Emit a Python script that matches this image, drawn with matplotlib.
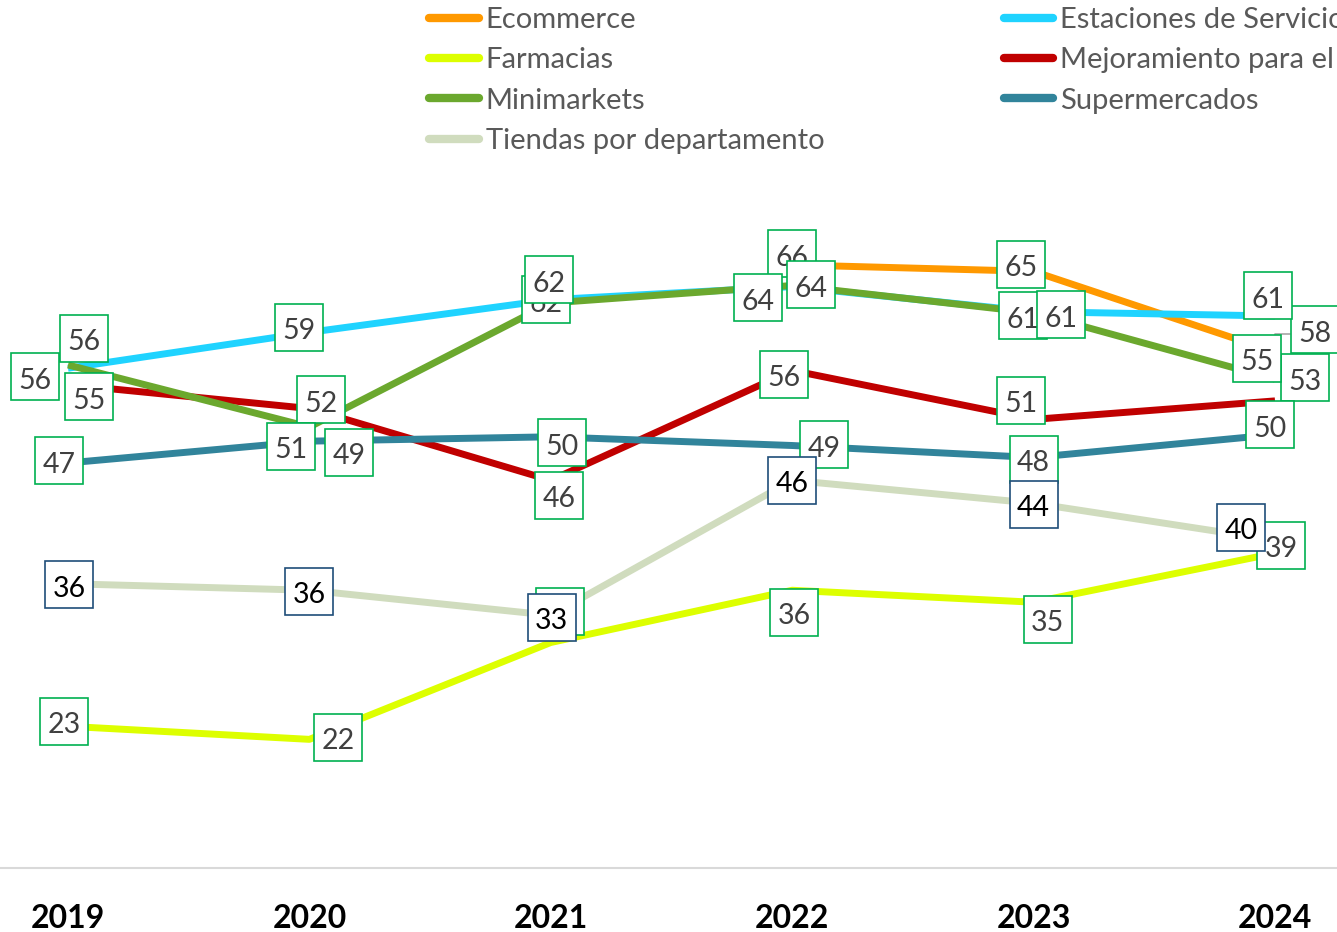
import matplotlib
matplotlib.use("Agg")
import matplotlib.pyplot as plt
from matplotlib.lines import Line2D
from matplotlib.path import Path
import numpy as np

years = ["2019", "2020", "2021", "2022", "2023", "2024"]
ecommerce = [np.nan, np.nan, np.nan, 65.6, 65.0, 57.6]
estaciones = [56.1, 59.4, 62.4, 63.6, 61.3, 60.9]
farmacias = [23.2, 22.0, 30.9, 35.7, 34.6, 39.1]
mejoramiento = [54.6, 52.4, 45.8, 55.9, 51.4, 53.1]
minimarkets = [56.4, 50.7, 62.1, 63.7, 61.2, 55.1]
supermercados = [47.4, 49.4, 49.8, 49.0, 47.9, 50.0]
tiendas = [36.3, 35.7, 33.4, 45.8, 43.7, 40.3]

series_names = ["Ecommerce", "Estaciones de Servicio", "Farmacias",
                "Mejoramiento para el hogar", "Minimarkets", "Supermercados",
                "Tiendas por departamento"]
series_values = [ecommerce, estaciones, farmacias, mejoramiento,
                 minimarkets, supermercados, tiendas]
colors = ["#FF9900", "#1FD3FF", "#DDFF00", "#C00000", "#6BA82E", "#31849B", "#D0DCBE"]

# label box-centre offsets in image pixels (dx right, dy down)
label_offsets = [
    [None, None, None, (0, -11), (-13, -7), (40, -22)],
    [(16, -30), (-10, -5), (-5, 0), (-34, 11), (-11, 4), (-7, -20)],
    [(-4, -5), (29, -2), (9, -31), (2, 22), (14, 17), (6, -8)],
    [(21, 12), (12, -9), (8, 15), (-8, 4), (-13, -19), (30, -23)],
    [(-33, 12), (-18, 19), (-2, -23), (19, -1), (27, 2), (-18, -21)],
    [(-9, -2), (40, 11), (11, 6), (32, -1), (0, 2), (-5, -10)],
    [(1, 1), (0, 1), (1, 2), (0, 0), (0, 1), (-34, -13)],
]

FONT = "Lato"
W, H = 1337, 932
BOX_W, BOX_H = 48.0, 47.0
SHIFT = 4.0  # box centre sits this many px above the text-bbox centre


def label_box(x0, y0, width, height, mutation_size):
    cx = x0 + width / 2.0
    cy = y0 + height / 2.0 + SHIFT
    hw, hh = BOX_W / 2.0, BOX_H / 2.0
    verts = [(cx - hw, cy - hh), (cx + hw, cy - hh), (cx + hw, cy + hh),
             (cx - hw, cy + hh), (cx - hw, cy - hh)]
    codes = [Path.MOVETO, Path.LINETO, Path.LINETO, Path.LINETO, Path.CLOSEPOLY]
    return Path(verts, codes)


fig = plt.figure(figsize=(W / 100, H / 100), dpi=100)
ax = fig.add_axes([0, (H - 868) / H, 1, (868 - 215) / H])

x = np.arange(len(years))
for name, vals, col in zip(series_names, series_values, colors):
    ax.plot(x, vals, color=col, lw=5, solid_capstyle="butt", solid_joinstyle="round", zorder=2)

for si, (vals, offs) in enumerate(zip(series_values, label_offsets)):
    is_t = si == 6
    for i, v in enumerate(vals):
        if np.isnan(v):
            continue
        dx, dy = offs[i]
        kw = {}
        if si == 0 and i == 5:
            kw["arrowprops"] = dict(arrowstyle="-", color="#A6A6A6", lw=1.2,
                                    shrinkA=0, shrinkB=0,
                                    connectionstyle="angle,angleA=0,angleB=90,rad=0")
        ax.annotate(f"{v:.0f}", xy=(i, v), xytext=(dx, -(dy + SHIFT)), textcoords="offset pixels",
                    ha="center", va="center", fontsize=20.5, family=FONT,
                    color="#000000" if is_t else "#404040",
                    bbox=dict(boxstyle=label_box, fc="white",
                              ec="#1F4E79" if is_t else "#00B050", lw=1.2),
                    zorder=5 + si, annotation_clip=False, **kw)

ax.set_xlim(-68 / 241.4, 5 + 62 / 241.4)
ax.set_ylim(10.18, 70.18)
ax.set_xticks(x)
ax.set_xticklabels(years, fontsize=23, fontweight="bold", family=FONT, color="black")
ax.tick_params(axis="x", length=0, pad=26)
ax.set_yticks([])
for s in ["top", "left", "right"]:
    ax.spines[s].set_visible(False)
ax.spines["bottom"].set_color("#D9D9D9")
ax.spines["bottom"].set_linewidth(1.5)

order = [0, 2, 4, 6, 1, 3, 5]
handles = [Line2D([0], [0], color=colors[k], lw=6, solid_capstyle="round") for k in order]
labels = [series_names[k] for k in order]
leg = fig.legend(handles, labels, loc="upper left", bbox_to_anchor=(429 / W, 1.0 - 7 / H),
                 bbox_transform=fig.transFigure, ncol=2, frameon=False,
                 prop={"family": FONT, "size": 21}, handlelength=1.7, handletextpad=0.24,
                 labelspacing=0.49, columnspacing=6.16, borderpad=0, borderaxespad=0)
for t in leg.get_texts():
    t.set_color("#595959")

fig.savefig("out.png", dpi=100)
